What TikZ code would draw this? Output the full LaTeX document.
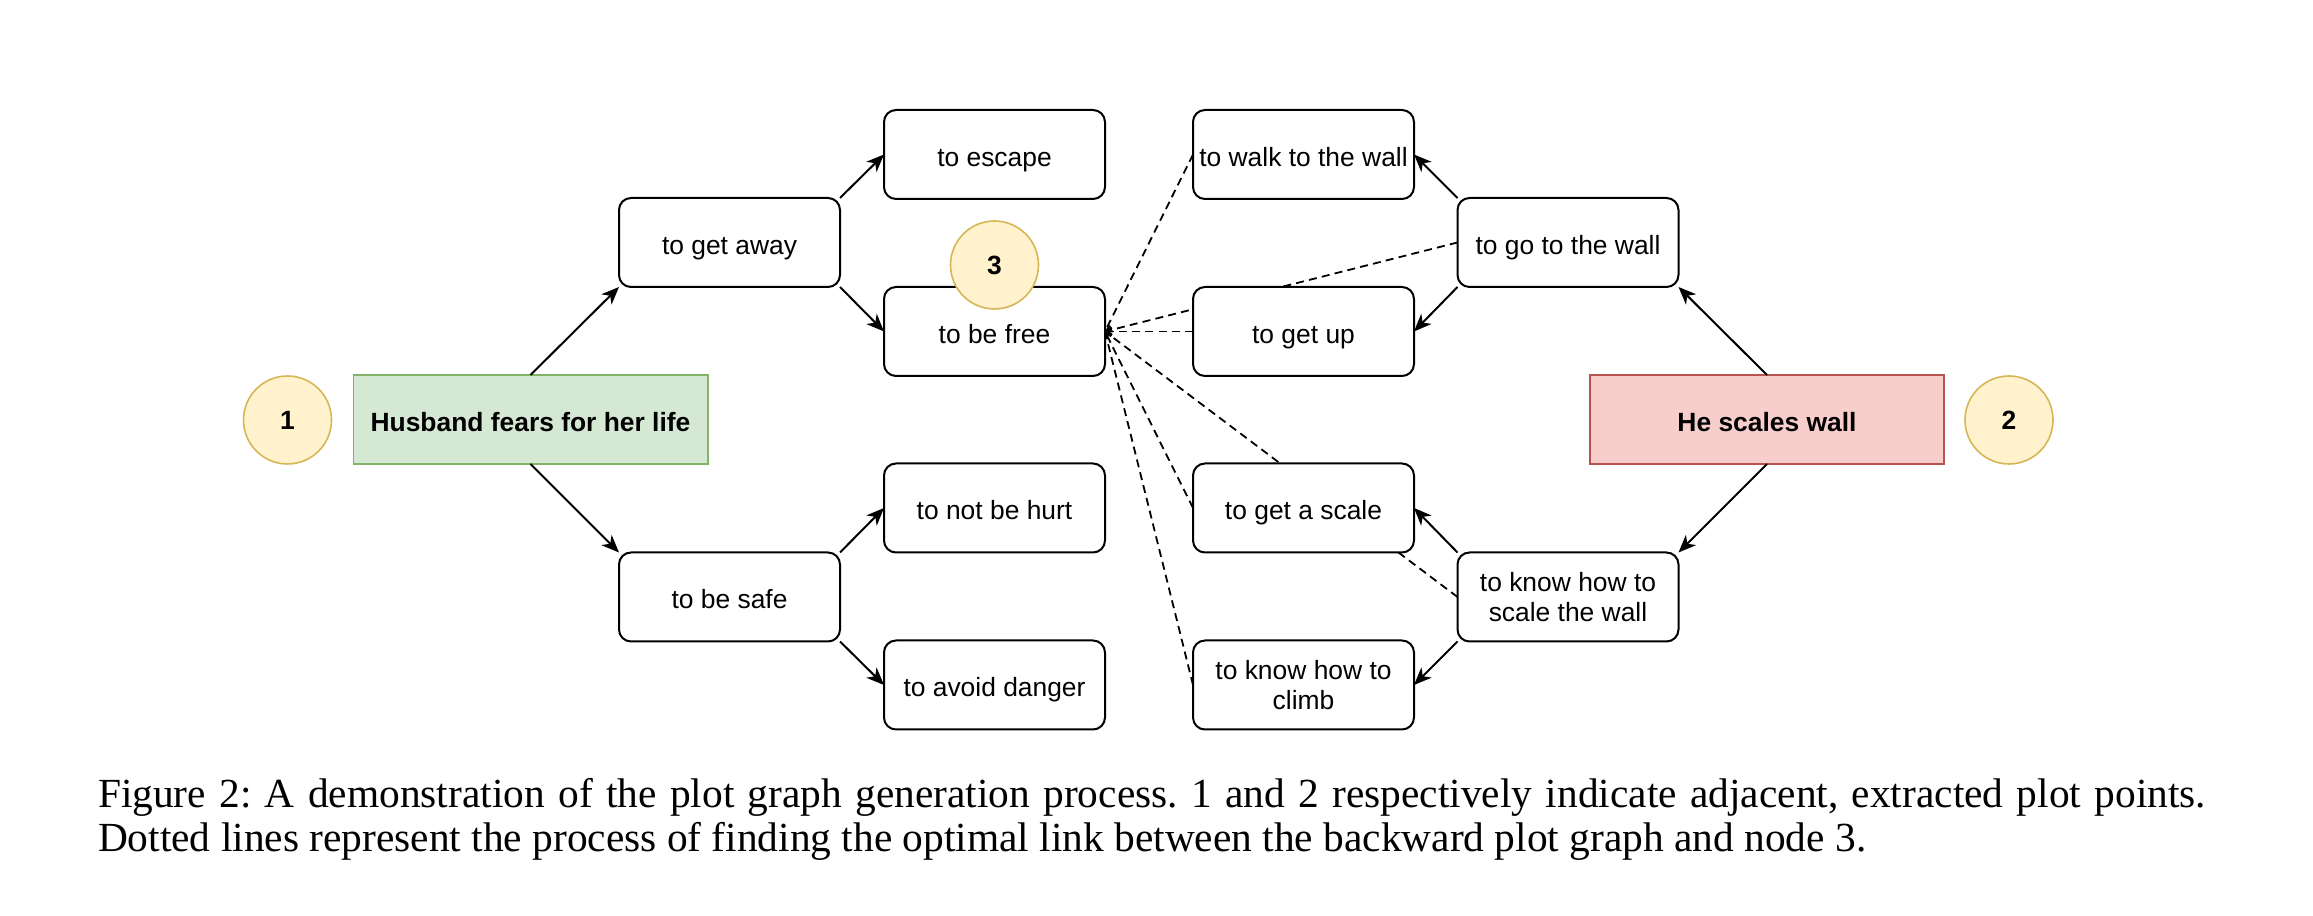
\documentclass[tikz,border=0pt]{standalone}
\usepackage{fontspec}
\setmainfont{Liberation Serif}
\newfontfamily\arialf{Liberation Sans}
\usetikzlibrary{arrows.meta,backgrounds}
\definecolor{gfill}{HTML}{D5E8D4}
\definecolor{gdraw}{HTML}{82B366}
\definecolor{rfill}{HTML}{F8CECC}
\definecolor{rdraw}{HTML}{B85450}
\definecolor{yfill}{HTML}{FFF2CC}
\definecolor{ydraw}{HTML}{D6B656}
\frenchspacing
\tikzset{
  nodefont/.style={font=\arialf\fontsize{6.6}{7.6}\selectfont},
  boxbase/.style={nodefont, draw=black, line width=0.5pt, fill=white, rounded corners=3pt,
    minimum width=55.25pt, minimum height=22.25pt, inner sep=0pt, outer sep=0pt, align=center},
  box/.style={boxbase, text height=0.72em, text depth=0.12em},
  box2/.style={boxbase},
  keybox/.style={font=\arialf\bfseries\fontsize{6.6}{7.6}\selectfont, line width=0.4pt,
    minimum width=88.6pt, minimum height=22.25pt, inner sep=0pt, outer sep=0pt,
    text height=0.72em, text depth=0.12em},
  greenbox/.style={keybox, draw=gdraw, fill=gfill},
  redbox/.style={keybox, draw=rdraw, fill=rfill},
  numcircle/.style={circle, draw=ydraw, fill=yfill, line width=0.4pt, minimum size=22pt,
    inner sep=0pt, outer sep=0pt, font=\arialf\bfseries\fontsize{6.6}{7.6}\selectfont},
  arr/.style={draw=black, line width=0.5pt, -{Stealth[length=4.4pt, width=3.6pt, inset=1.3pt]}},
  dashlink/.style={draw=black, line width=0.45pt, dash pattern=on 2pt off 1.3pt,
    -{Straight Barb[length=1.2pt, width=2.4pt]}},
  captionfont/.style={font=\fontsize{10.35}{11}\selectfont, inner sep=0pt, outer sep=0pt}
}
\begin{document}
\begin{tikzpicture}[x=0.25pt, y=-0.25pt]
\useasboundingbox (0,0) rectangle (2313,916);
% left tree
\node[greenbox] (husband) at (530.5,419.5) {Husband fears for her life};
\node[numcircle] (c1) at (287.5,420) {1};
\node[box] (getaway) at (729.5,242.5) {to get away};
\node[box] (escape) at (994.5,154.5) {to escape};
\node[box] (befree) at (994.5,331.5) {to be free};
\node[box] (safe) at (729.5,597) {to be safe};
\node[box] (nothurt) at (994.5,508) {to not be hurt};
\node[box] (avoid) at (994.5,685) {to avoid danger};
\node[numcircle] (c3) at (994.5,265) {3};
% right tree
\node[redbox] (scales) at (1767,419.5) {He scales wall};
\node[numcircle] (c2) at (2009,420) {2};
\node[box] (gowall) at (1568,242.5) {to go to the wall};
\node[box] (walk) at (1303.5,154.5) {to walk to the wall};
\node[box] (getup) at (1303.5,331.5) {to get up};
\node[box2] (knowscale) at (1568,597) {to know how to\\scale the wall};
\node[box] (getscale) at (1303.5,508) {to get a scale};
\node[box2] (climb) at (1303.5,685) {to know how to\\climb};
% solid arrows
\draw[arr] (husband.north) -- (getaway.south west);
\draw[arr] (getaway.north east) -- (escape.west);
\draw[arr] (getaway.south east) -- (befree.west);
\draw[arr] (husband.south) -- (safe.north west);
\draw[arr] (safe.north east) -- (nothurt.west);
\draw[arr] (safe.south east) -- (avoid.west);
\draw[arr] (scales.north) -- (gowall.south east);
\draw[arr] (gowall.north west) -- (walk.east);
\draw[arr] (gowall.south west) -- (getup.east);
\draw[arr] (scales.south) -- (knowscale.north east);
\draw[arr] (knowscale.north west) -- (getscale.east);
\draw[arr] (knowscale.south west) -- (climb.east);
% dashed links (behind boxes)
\begin{scope}[on background layer]
\draw[dashlink] (walk.west) -- (befree.east);
\draw[dashlink] (gowall.west) -- (befree.east);
\draw[dashlink] (getup.west) -- (befree.east);
\draw[dashlink] (knowscale.west) -- (befree.east);
\draw[dashlink] (getscale.west) -- (befree.east);
\draw[dashlink] (climb.west) -- (befree.east);
\end{scope}
% caption
\node[captionfont, anchor=base west] (cap1) at (98,808) {\makebox[527pt][s]{Figure 2: A demonstration of the plot graph generation process. 1 and 2 respectively indicate adjacent, extracted plot points.}};
\node[captionfont, anchor=base west] (cap2) at (98,852) {Dotted lines represent the process of finding the optimal link between the backward plot graph and node 3.};
\end{tikzpicture}
\end{document}
